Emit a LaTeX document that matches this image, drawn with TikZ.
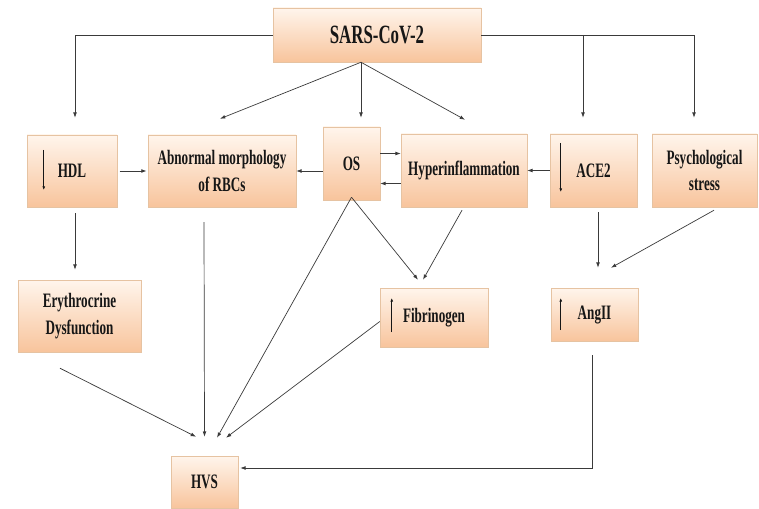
\documentclass[tikz,border=0pt]{standalone}
\usepackage{fontspec}
\setmainfont{Liberation Serif}[FakeStretch=0.64]
\usetikzlibrary{arrows.meta,calc,shadows}
\definecolor{Ink}{HTML}{161616}
\definecolor{Wire}{HTML}{3A3A3A}
\definecolor{PeachTop}{HTML}{FFF5EC}
\definecolor{PeachLow}{HTML}{F8C49C}
\definecolor{PeachEdge}{HTML}{E6C3A2}
\newcommand{\trend}[3]{
  \draw[Ink, line width=0.6pt, -{Latex[length=3pt,width=2.4pt]}] ($(#1)+(#2)$) -- ++(0,#3);
}

\begin{document}
\begin{tikzpicture}[x=0.03cm, y=-0.03cm,
    box/.style 2 args={draw=PeachEdge, line width=0.4pt, top color=PeachTop, bottom color=PeachLow,
      drop shadow={shadow xshift=0.6pt, shadow yshift=-1.2pt, opacity=0.3},
      minimum width=#1*0.03cm, minimum height=#2*0.03cm, inner sep=1pt, align=center,
      text=Ink, font=\bfseries\fontsize{17.5}{23}\selectfont},
    link/.style={Wire, line width=0.6pt, -{Latex[length=4.5pt,width=3.2pt]}}]
    \useasboundingbox (0,0) rectangle (759,509);
    % boxes
    \node[box={208}{54}, font=\bfseries\fontsize{22.5}{26}\selectfont] (sars) at (377,35) {SARS-CoV-2};
    \node[box={90}{72}] (hdl) at (72,171) {HDL};
    \node[box={148}{72}] (abn) at (222,171) {Abnormal morphology\\of RBCs};
    \node[box={57}{73}] (os) at (351.5,163.5) {OS};
    \node[box={126}{73}] (hyp) at (464,170.5) {Hyperinflammation};
    \node[box={87}{73}] (ace) at (593.5,170.5) {ACE2};
    \node[box={105}{73}] (psy) at (704.5,170.5) {Psychological\\stress};
    \node[box={123}{72}] (ery) at (79.5,316) {Erythrocrine\\Dysfunction};
    \node[box={108}{59}] (fib) at (434,317.5) {Fibrinogen};
    \node[box={87}{53}] (ang) at (594.5,314.5) {AngII};
    \node[box={67}{52}] (hvs) at (204.5,482) {HVS};
    % up / down marks
    \trend{hdl.west}{17,-21}{40}
    \trend{ace.west}{11,-27.5}{49}
    \trend{fib.west}{12,14.5}{-34}
    \trend{ang.west}{10,15.5}{-32}
    % SARS-CoV-2 outputs
    \coordinate (fan) at ($(sars.south)+(-16,0)$);
    \coordinate (acetop) at ($(ace.north)+(-10.5,-16)$);
    \draw[link] (sars.west) -| ($(hdl.north)+(3,-17)$);
    \draw[link] (sars.east) -| ($(psy.north)+(-10.5,-16)$);
    \draw[link] (acetop |- sars.east) -- (acetop);
    \draw[link] (fan) -- ($(abn.north)+(-2,-16)$);
    \draw[link] (fan) -- ($(os.north)+(9.5,-9)$);
    \draw[link] (fan) -- ($(hyp.north)+(1,-14)$);
    % middle row
    \draw[link, shorten <=2pt, shorten >=1pt] (hdl.east) -- (abn.east -| abn.west);
    \draw[link] (os.west |- abn.east) -- (abn.east);
    \coordinate (osup) at ($(os.east)+(0,-10)$);
    \coordinate (osdown) at ($(os.east)+(0,20)$);
    \draw[link] (osup) -- (osup -| hyp.west);
    \draw[link] (osdown -| hyp.west) -- (osdown);
    \draw[link] (ace.west) -- (hyp.east);
    % downward links
    \draw[link] ($(hdl.south)+(3,6)$) -- ($(ery.north)+(-4.5,-10)$);
    \draw[link] ($(abn.south)+(-18,15)$) -- ($(hvs.north)+(0,-19)$);
    \draw[link] ($(os.south)+(0,-3)$) -- ($(hvs.north)+(12.5,-18)$);
    \draw[link] ($(os.south)+(0,-3)$) -- ($(fib.north)+(-16,-8)$);
    \draw[link] ($(hyp.south)+(-2,3)$) -- ($(fib.north)+(-11,-8)$);
    \draw[link] ($(fib.west)+(0,4)$) -- ($(hvs.north)+(21.5,-18)$);
    \draw[link] ($(ery.south)+(-19.5,16)$) -- ($(hvs.north)+(-8.5,-19)$);
    \draw[link] ($(ace.south)+(4.5,5)$) -- ($(ang.north)+(3.5,-20)$);
    \draw[link] ($(psy.south)+(9.5,3)$) -- ($(ang.north)+(16.5,-20)$);
    \coordinate (hvsin) at ($(hvs.east)+(2,-14)$);
    \draw[link] ($(ang.south)+(-2.5,14)$) |- (hvsin);
  \end{tikzpicture}
\end{document}
